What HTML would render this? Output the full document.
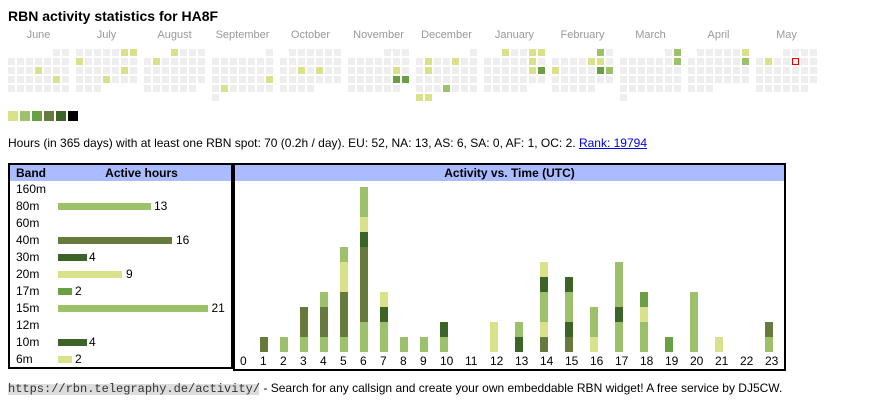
<!DOCTYPE html>
<html><head><meta charset="utf-8"><style>
html,body{margin:0;padding:0;background:#fff}
body{width:870px;height:407px;position:relative;overflow:hidden;font-family:"Liberation Sans",Arial,sans-serif;color:#000}
div{position:absolute;box-sizing:border-box}
.r{height:7px;background:repeating-linear-gradient(90deg,#eee 0,#eee 7px,transparent 7px,transparent 9px)}
.c{width:7px;height:7px}
.y{background:#d9e18b}.l{background:#9dc06a}.m{background:#6a9f46}.o{background:#667a3b}.d{background:#3c6428}.k{background:#000}
.ml{top:30px;width:61px;text-align:center;font-size:11px;line-height:11px;color:#999;white-space:nowrap}
.t12{font-size:12px;line-height:12px;white-space:nowrap}
.b{font-weight:bold}
.bar{width:8px}
</style></head><body>

<div class="b" style="left:8px;top:9px;font-size:14px;line-height:14px;white-space:nowrap">RBN activity statistics for HA8F</div>

<div class="ml" style="left:8px">June</div>
<div class="ml" style="left:76px">July</div>
<div class="ml" style="left:144px">August</div>
<div class="ml" style="left:212px">September</div>
<div class="ml" style="left:280px">October</div>
<div class="ml" style="left:348px">November</div>
<div class="ml" style="left:416px">December</div>
<div class="ml" style="left:484px">January</div>
<div class="ml" style="left:552px">February</div>
<div class="ml" style="left:620px">March</div>
<div class="ml" style="left:688px">April</div>
<div class="ml" style="left:756px">May</div>

<!-- June -->
<div class="r" style="left:53px;top:49px;width:16px"></div>
<div class="r" style="left:8px;top:58px;width:61px"></div>
<div class="r" style="left:8px;top:67px;width:61px"></div>
<div class="r" style="left:8px;top:76px;width:61px"></div>
<div class="r" style="left:8px;top:85px;width:61px"></div>
<!-- July -->
<div class="r" style="left:76px;top:49px;width:61px"></div>
<div class="r" style="left:76px;top:58px;width:61px"></div>
<div class="r" style="left:76px;top:67px;width:61px"></div>
<div class="r" style="left:76px;top:76px;width:61px"></div>
<div class="r" style="left:76px;top:85px;width:25px"></div>
<!-- August -->
<div class="r" style="left:171px;top:49px;width:34px"></div>
<div class="r" style="left:144px;top:58px;width:61px"></div>
<div class="r" style="left:144px;top:67px;width:61px"></div>
<div class="r" style="left:144px;top:76px;width:61px"></div>
<div class="r" style="left:144px;top:85px;width:52px"></div>
<!-- September -->
<div class="r" style="left:266px;top:49px;width:7px"></div>
<div class="r" style="left:212px;top:58px;width:61px"></div>
<div class="r" style="left:212px;top:67px;width:61px"></div>
<div class="r" style="left:212px;top:76px;width:61px"></div>
<div class="r" style="left:212px;top:85px;width:61px"></div>
<div class="r" style="left:212px;top:94px;width:7px"></div>
<!-- October -->
<div class="r" style="left:289px;top:49px;width:52px"></div>
<div class="r" style="left:280px;top:58px;width:61px"></div>
<div class="r" style="left:280px;top:67px;width:61px"></div>
<div class="r" style="left:280px;top:76px;width:61px"></div>
<div class="r" style="left:280px;top:85px;width:34px"></div>
<!-- November -->
<div class="r" style="left:384px;top:49px;width:25px"></div>
<div class="r" style="left:348px;top:58px;width:61px"></div>
<div class="r" style="left:348px;top:67px;width:61px"></div>
<div class="r" style="left:348px;top:76px;width:61px"></div>
<div class="r" style="left:348px;top:85px;width:52px"></div>
<!-- December -->
<div class="r" style="left:470px;top:49px;width:7px"></div>
<div class="r" style="left:416px;top:58px;width:61px"></div>
<div class="r" style="left:416px;top:67px;width:61px"></div>
<div class="r" style="left:416px;top:76px;width:61px"></div>
<div class="r" style="left:416px;top:85px;width:61px"></div>
<div class="r" style="left:416px;top:94px;width:16px"></div>
<!-- January -->
<div class="r" style="left:502px;top:49px;width:43px"></div>
<div class="r" style="left:484px;top:58px;width:61px"></div>
<div class="r" style="left:484px;top:67px;width:61px"></div>
<div class="r" style="left:484px;top:76px;width:61px"></div>
<div class="r" style="left:484px;top:85px;width:43px"></div>
<!-- February -->
<div class="r" style="left:597px;top:49px;width:16px"></div>
<div class="r" style="left:552px;top:58px;width:61px"></div>
<div class="r" style="left:552px;top:67px;width:61px"></div>
<div class="r" style="left:552px;top:76px;width:61px"></div>
<div class="r" style="left:552px;top:85px;width:43px"></div>
<!-- March -->
<div class="r" style="left:665px;top:49px;width:16px"></div>
<div class="r" style="left:620px;top:58px;width:61px"></div>
<div class="r" style="left:620px;top:67px;width:61px"></div>
<div class="r" style="left:620px;top:76px;width:61px"></div>
<div class="r" style="left:620px;top:85px;width:61px"></div>
<div class="r" style="left:620px;top:94px;width:7px"></div>
<!-- April -->
<div class="r" style="left:697px;top:49px;width:52px"></div>
<div class="r" style="left:688px;top:58px;width:61px"></div>
<div class="r" style="left:688px;top:67px;width:61px"></div>
<div class="r" style="left:688px;top:76px;width:61px"></div>
<div class="r" style="left:688px;top:85px;width:25px"></div>
<!-- May -->
<div class="r" style="left:783px;top:49px;width:34px"></div>
<div class="r" style="left:756px;top:58px;width:61px"></div>
<div class="r" style="left:756px;top:67px;width:61px"></div>
<div class="r" style="left:756px;top:76px;width:61px"></div>
<div class="r" style="left:756px;top:85px;width:52px"></div>

<!-- active days -->
<div class="c y" style="left:35px;top:67px"></div>
<div class="c y" style="left:53px;top:76px"></div>
<div class="c y" style="left:121px;top:49px"></div>
<div class="c y" style="left:130px;top:49px"></div>
<div class="c y" style="left:76px;top:58px"></div>
<div class="c y" style="left:121px;top:67px"></div>
<div class="c y" style="left:103px;top:76px"></div>
<div class="c y" style="left:171px;top:49px"></div>
<div class="c y" style="left:153px;top:58px"></div>
<div class="c y" style="left:266px;top:76px"></div>
<div class="c y" style="left:221px;top:85px"></div>
<div class="c y" style="left:298px;top:67px"></div>
<div class="c y" style="left:316px;top:67px"></div>
<div class="c y" style="left:393px;top:67px"></div>
<div class="c m" style="left:393px;top:76px"></div>
<div class="c m" style="left:402px;top:76px"></div>
<div class="c y" style="left:425px;top:58px"></div>
<div class="c y" style="left:452px;top:58px"></div>
<div class="c y" style="left:425px;top:67px"></div>
<div class="c l" style="left:443px;top:85px"></div>
<div class="c y" style="left:416px;top:94px"></div>
<div class="c y" style="left:425px;top:94px"></div>
<div class="c y" style="left:502px;top:49px"></div>
<div class="c y" style="left:529px;top:49px"></div>
<div class="c y" style="left:538px;top:49px"></div>
<div class="c y" style="left:529px;top:58px"></div>
<div class="c y" style="left:529px;top:67px"></div>
<div class="c m" style="left:538px;top:67px"></div>
<div class="c l" style="left:597px;top:49px"></div>
<div class="c y" style="left:588px;top:58px"></div>
<div class="c y" style="left:597px;top:58px"></div>
<div class="c m" style="left:597px;top:67px"></div>
<div class="c l" style="left:606px;top:67px"></div>
<div class="c y" style="left:552px;top:67px"></div>
<div class="c l" style="left:674px;top:49px"></div>
<div class="c l" style="left:674px;top:58px"></div>
<div class="c y" style="left:742px;top:49px"></div>
<div class="c l" style="left:742px;top:58px"></div>
<div class="c y" style="left:765px;top:58px"></div>
<div class="c" style="left:792px;top:58px;border:1px solid #e00;background:#eee"></div>

<!-- legend -->
<div class="y" style="left:8px;top:111px;width:10px;height:10px"></div>
<div class="l" style="left:20px;top:111px;width:10px;height:10px"></div>
<div class="m" style="left:32px;top:111px;width:10px;height:10px"></div>
<div class="o" style="left:44px;top:111px;width:10px;height:10px"></div>
<div class="d" style="left:56px;top:111px;width:10px;height:10px"></div>
<div class="k" style="left:68px;top:111px;width:10px;height:10px"></div>

<div class="t12" style="left:8px;top:136.5px">Hours (in 365 days) with at least one RBN spot: 70 (0.2h / day). EU: 52, NA: 13, AS: 6, SA: 0, AF: 1, OC: 2. <span style="color:#00e;text-decoration:underline">Rank: 19794</span></div>

<!-- left table -->
<div style="left:8px;top:163px;width:225px;height:206px;border:2px solid #000"></div>
<div style="left:10px;top:165px;width:221px;height:16px;background:#aabbff"></div>
<div class="t12 b" style="left:16px;top:166.8px">Band</div>
<div class="t12 b" style="left:90px;top:166.8px;width:103px;text-align:center">Active hours</div>

<div class="t12" style="left:16px;top:182.8px">160m</div>
<div class="t12" style="left:16px;top:199.8px">80m</div>
<div class="t12" style="left:16px;top:216.8px">60m</div>
<div class="t12" style="left:16px;top:233.8px">40m</div>
<div class="t12" style="left:16px;top:250.8px">30m</div>
<div class="t12" style="left:16px;top:267.8px">20m</div>
<div class="t12" style="left:16px;top:284.8px">17m</div>
<div class="t12" style="left:16px;top:301.8px">15m</div>
<div class="t12" style="left:16px;top:318.8px">12m</div>
<div class="t12" style="left:16px;top:335.8px">10m</div>
<div class="t12" style="left:16px;top:352.8px">6m</div>

<div class="l" style="left:58px;top:203px;width:92.9px;height:7px"></div>
<div class="t12" style="left:154px;top:199.8px">13</div>
<div class="o" style="left:58px;top:237px;width:114.3px;height:7px"></div>
<div class="t12" style="left:176px;top:233.8px">16</div>
<div class="d" style="left:58px;top:254px;width:28.6px;height:7px"></div>
<div class="t12" style="left:89px;top:250.8px">4</div>
<div class="y" style="left:58px;top:271px;width:64.3px;height:7px"></div>
<div class="t12" style="left:126px;top:267.8px">9</div>
<div class="m" style="left:58px;top:288px;width:14.3px;height:7px"></div>
<div class="t12" style="left:75px;top:284.8px">2</div>
<div class="l" style="left:58px;top:305px;width:150px;height:7px"></div>
<div class="t12" style="left:211.5px;top:301.8px">21</div>
<div class="d" style="left:58px;top:339px;width:28.6px;height:7px"></div>
<div class="t12" style="left:89px;top:335.8px">4</div>
<div class="y" style="left:58px;top:356px;width:14.3px;height:7px"></div>
<div class="t12" style="left:75px;top:352.8px">2</div>

<!-- chart -->
<div style="left:233px;top:163px;width:553px;height:208px;border:2px solid #000"></div>
<div style="left:235px;top:165px;width:549px;height:16px;background:#aabbff"></div>
<div class="t12 b" style="left:235px;top:166.8px;width:549px;text-align:center">Activity vs. Time (UTC)</div>

<div class="bar o" style="left:260px;top:337px;height:15px"></div>
<div class="bar l" style="left:280px;top:337px;height:15px"></div>
<div class="bar l" style="left:300px;top:337px;height:15px"></div>
<div class="bar o" style="left:300px;top:307px;height:30px"></div>
<div class="bar l" style="left:320px;top:337px;height:15px"></div>
<div class="bar o" style="left:320px;top:307px;height:30px"></div>
<div class="bar l" style="left:320px;top:292px;height:15px"></div>
<div class="bar l" style="left:340px;top:337px;height:15px"></div>
<div class="bar o" style="left:340px;top:292px;height:45px"></div>
<div class="bar y" style="left:340px;top:262px;height:30px"></div>
<div class="bar l" style="left:340px;top:247px;height:15px"></div>
<div class="bar l" style="left:360px;top:322px;height:30px"></div>
<div class="bar o" style="left:360px;top:247px;height:75px"></div>
<div class="bar d" style="left:360px;top:232px;height:15px"></div>
<div class="bar y" style="left:360px;top:217px;height:15px"></div>
<div class="bar l" style="left:360px;top:187px;height:30px"></div>
<div class="bar l" style="left:380px;top:322px;height:30px"></div>
<div class="bar d" style="left:380px;top:307px;height:15px"></div>
<div class="bar y" style="left:380px;top:292px;height:15px"></div>
<div class="bar l" style="left:400px;top:337px;height:15px"></div>
<div class="bar l" style="left:420px;top:337px;height:15px"></div>
<div class="bar l" style="left:440px;top:337px;height:15px"></div>
<div class="bar d" style="left:440px;top:322px;height:15px"></div>
<div class="bar y" style="left:490px;top:322px;height:30px"></div>
<div class="bar d" style="left:515px;top:337px;height:15px"></div>
<div class="bar l" style="left:515px;top:322px;height:15px"></div>
<div class="bar o" style="left:540px;top:337px;height:15px"></div>
<div class="bar y" style="left:540px;top:322px;height:15px"></div>
<div class="bar l" style="left:540px;top:292px;height:30px"></div>
<div class="bar d" style="left:540px;top:277px;height:15px"></div>
<div class="bar y" style="left:540px;top:262px;height:15px"></div>
<div class="bar o" style="left:565px;top:337px;height:15px"></div>
<div class="bar d" style="left:565px;top:322px;height:15px"></div>
<div class="bar l" style="left:565px;top:292px;height:30px"></div>
<div class="bar d" style="left:565px;top:277px;height:15px"></div>
<div class="bar y" style="left:590px;top:337px;height:15px"></div>
<div class="bar l" style="left:590px;top:307px;height:30px"></div>
<div class="bar l" style="left:615px;top:322px;height:30px"></div>
<div class="bar d" style="left:615px;top:307px;height:15px"></div>
<div class="bar l" style="left:615px;top:262px;height:45px"></div>
<div class="bar l" style="left:640px;top:322px;height:30px"></div>
<div class="bar y" style="left:640px;top:307px;height:15px"></div>
<div class="bar m" style="left:640px;top:292px;height:15px"></div>
<div class="bar m" style="left:665px;top:337px;height:15px"></div>
<div class="bar l" style="left:690px;top:292px;height:60px"></div>
<div class="bar y" style="left:715px;top:337px;height:15px"></div>
<div class="bar l" style="left:765px;top:337px;height:15px"></div>
<div class="bar o" style="left:765px;top:322px;height:15px"></div>

<div class="t12" style="left:240px;top:354.8px">0</div>
<div class="t12" style="left:260px;top:354.8px">1</div>
<div class="t12" style="left:280px;top:354.8px">2</div>
<div class="t12" style="left:300px;top:354.8px">3</div>
<div class="t12" style="left:320px;top:354.8px">4</div>
<div class="t12" style="left:340px;top:354.8px">5</div>
<div class="t12" style="left:360px;top:354.8px">6</div>
<div class="t12" style="left:380px;top:354.8px">7</div>
<div class="t12" style="left:400px;top:354.8px">8</div>
<div class="t12" style="left:420px;top:354.8px">9</div>
<div class="t12" style="left:440px;top:354.8px">10</div>
<div class="t12" style="left:465px;top:354.8px">11</div>
<div class="t12" style="left:490px;top:354.8px">12</div>
<div class="t12" style="left:515px;top:354.8px">13</div>
<div class="t12" style="left:540px;top:354.8px">14</div>
<div class="t12" style="left:565px;top:354.8px">15</div>
<div class="t12" style="left:590px;top:354.8px">16</div>
<div class="t12" style="left:615px;top:354.8px">17</div>
<div class="t12" style="left:640px;top:354.8px">18</div>
<div class="t12" style="left:665px;top:354.8px">19</div>
<div class="t12" style="left:690px;top:354.8px">20</div>
<div class="t12" style="left:715px;top:354.8px">21</div>
<div class="t12" style="left:740px;top:354.8px">22</div>
<div class="t12" style="left:765px;top:354.8px">23</div>

<!-- footer -->
<div style="left:8px;top:384px;width:251px;height:11px;background:#ddd"></div>
<div class="t12" style="left:8px;top:381.5px"><span style="font-family:'Liberation Mono','Courier New',monospace;font-size:12px;color:#333">https://rbn.telegraphy.de/activity/</span> - Search for any callsign and create your own embeddable RBN widget! A free service by DJ5CW.</div>

</body></html>
